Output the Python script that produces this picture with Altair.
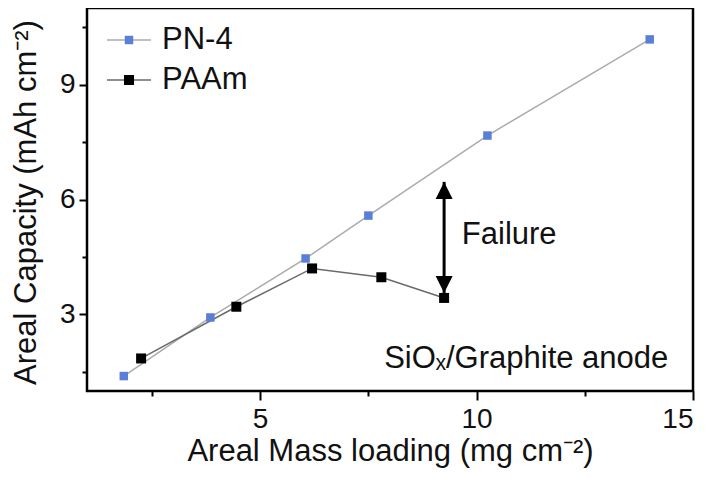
import altair as alt
import pandas as pd

series_names = ["PN-4", "PAAm"]
pn4_x = [1.85, 3.85, 6.05, 7.5, 10.25, 14.0]
pn4_y = [1.39, 2.92, 4.46, 5.58, 7.67, 10.18]
paam_x = [2.25, 4.45, 6.2, 7.8, 9.25]
paam_y = [1.85, 3.2, 4.2, 3.97, 3.43]

x_major = [5, 10, 15]
x_minor = [2.5, 7.5, 12.5]
y_major = [3, 6, 9]
y_minor = [1.5, 4.5, 7.5, 10.5]
x_domain = [1, 15]
y_domain = [1, 11]

arrow_x = [9.25, 9.25]
arrow_y = [3.56, 6.46]
failure_label = ["Failure"]
failure_x = [9.66]
failure_y = [5.07]
anode_label = ["SiOₓ/Graphite anode"]
anode_x = [14.43]
anode_y = [1.6]

x_title = "Areal Mass loading (mg cm⁻²)"
y_title = "Areal Capacity (mAh cm⁻²)"

line_colors = ["#ababab", "#6a6a6a"]
point_colors = ["#5a7fd8", "#000000"]
point_sizes = [72, 100]

FONT = "Liberation Sans"

pn4 = pd.DataFrame({"x": pn4_x, "y": pn4_y})
paam = pd.DataFrame({"x": paam_x, "y": paam_y})
series_data = [pn4, paam]

xs = alt.Scale(domain=x_domain, nice=False, zero=False)
ys = alt.Scale(domain=y_domain, nice=False, zero=False)

axis_common = dict(grid=False, domain=False, tickColor="black", tickWidth=2,
                   labelFont=FONT, labelColor="#111", titleFont=FONT,
                   titleColor="#111", titleFontWeight="normal")

x_major_axis = alt.Axis(values=x_major, title=x_title, orient="bottom", tickSize=9,
                        labelPadding=5, labelFontSize=28, titleFontSize=31,
                        titleX=303, titleY=69, titleBaseline="alphabetic", **axis_common)
x_minor_axis = alt.Axis(values=x_minor, title="", orient="bottom", tickSize=5,
                        labels=False, **axis_common)
y_major_axis = alt.Axis(values=y_major, title=y_title, orient="left", tickSize=8,
                        labelPadding=4, labelFontSize=28, titleFontSize=31,
                        titleX=-52, titleY=194, titleBaseline="alphabetic", **axis_common)
y_minor_axis = alt.Axis(values=y_minor, title="", orient="left", tickSize=5,
                        labels=False, **axis_common)

layers = []
# lines (carry the axes)
layers.append(alt.Chart(pn4).mark_line(color=line_colors[0], strokeWidth=1.5).encode(
    x=alt.X("x:Q", scale=xs, axis=x_major_axis),
    y=alt.Y("y:Q", scale=ys, axis=y_major_axis)))
layers.append(alt.Chart(paam).mark_line(color=line_colors[1], strokeWidth=1.5).encode(
    x=alt.X("x:Q", scale=xs, axis=x_minor_axis),
    y=alt.Y("y:Q", scale=ys, axis=y_minor_axis)))
# points
for d, c, s in zip(series_data, point_colors, point_sizes):
    layers.append(alt.Chart(d).mark_point(shape="square", filled=True, opacity=1,
                                          color=c, size=s).encode(
        x=alt.X("x:Q", scale=xs, axis=None),
        y=alt.Y("y:Q", scale=ys, axis=None)))

# failure arrow
arrow = pd.DataFrame({"x": arrow_x, "y": arrow_y})
layers.append(alt.Chart(arrow).mark_line(color="black", strokeWidth=3).encode(
    x=alt.X("x:Q", scale=xs, axis=None),
    y=alt.Y("y:Q", scale=ys, axis=None)))
heads = pd.DataFrame({"x": arrow_x, "y": arrow_y,
                      "dir": ["M0,0L-1,-2L1,-2Z", "M0,0L-1,2L1,2Z"]})
for i in range(2):
    layers.append(alt.Chart(heads.iloc[[i]]).mark_point(
        shape=heads["dir"][i], filled=True, opacity=1, color="black", size=289).encode(
        x=alt.X("x:Q", scale=xs, axis=None),
        y=alt.Y("y:Q", scale=ys, axis=None)))

# annotation texts
fail = pd.DataFrame({"x": failure_x, "y": failure_y, "t": failure_label})
layers.append(alt.Chart(fail).mark_text(align="left", baseline="middle", font=FONT,
                                        fontSize=31, color="#111").encode(
    x=alt.X("x:Q", scale=xs, axis=None), y=alt.Y("y:Q", scale=ys, axis=None), text="t:N"))
anode = pd.DataFrame({"x": anode_x, "y": anode_y, "t": anode_label})
layers.append(alt.Chart(anode).mark_text(align="right", baseline="alphabetic", font=FONT,
                                         fontSize=31, color="#111").encode(
    x=alt.X("x:Q", scale=xs, axis=None), y=alt.Y("y:Q", scale=ys, axis=None), text="t:N"))

# legend (manual, upper-left inside the frame)
one = pd.DataFrame({"k": [0]})
for i, name in enumerate(series_names):
    yy = 32 + 40 * i
    layers.append(alt.Chart(one).mark_rule(color=line_colors[i], strokeWidth=1.5).encode(
        x=alt.value(20), x2=alt.value(64), y=alt.value(yy)))
    layers.append(alt.Chart(one).mark_point(shape="square", filled=True, opacity=1,
                                            color=point_colors[i], size=point_sizes[i]).encode(
        x=alt.value(42), y=alt.value(yy)))
    layers.append(alt.Chart(one).mark_text(align="left", baseline="middle", font=FONT,
                                           fontSize=31, color="#111").encode(
        x=alt.value(75), y=alt.value(yy), text=alt.value(name)))

chart = alt.layer(*layers).resolve_axis(x="independent", y="independent").properties(
    width=606, height=383,
    autosize=alt.AutoSizeParams(type="none"),
    padding={"left": 79, "top": 0, "right": 19, "bottom": 78},
).configure_view(stroke="black", strokeWidth=2.5)

chart.save("out.html", embed_options={"renderer": "svg", "actions": False})
